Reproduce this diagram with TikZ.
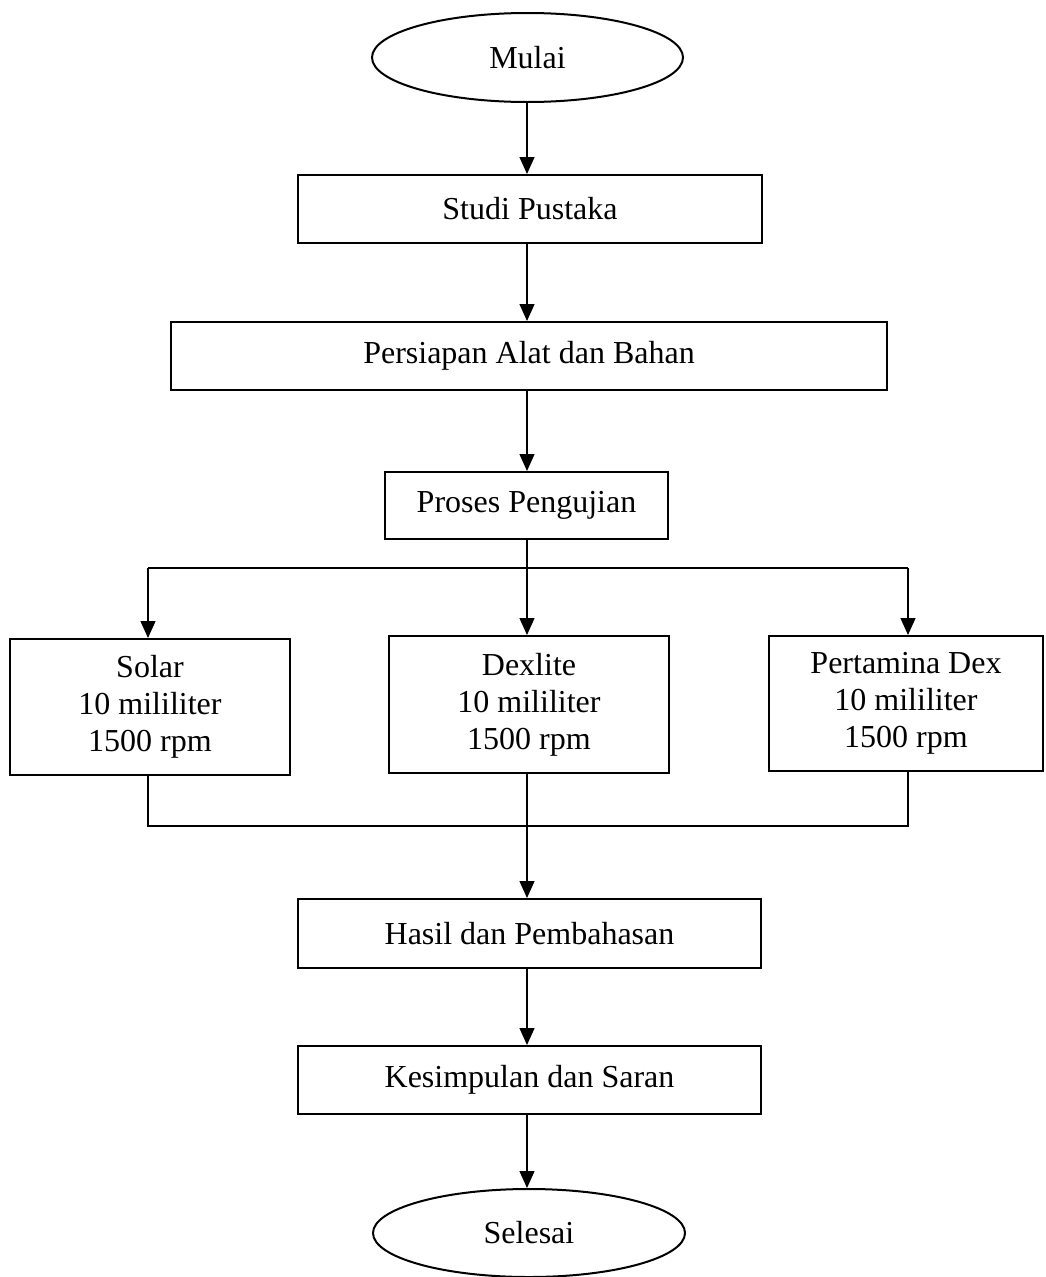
\documentclass[tikz,border=0pt]{standalone}
\usepackage{fontspec}
\setmainfont{Liberation Serif}
\usetikzlibrary{shapes.geometric,arrows.meta}
\begin{document}
\begin{tikzpicture}[x=1pt,y=-1pt,
  every node/.style={font=\fontsize{32}{37}\selectfont, align=center, inner sep=0pt},
  procbox/.style={draw, line width=2pt, rectangle},
  termin/.style={draw, line width=2pt, ellipse},
  arr/.style={line width=1.3pt, -{Triangle[length=17pt,width=15pt]}},
  ln/.style={line width=2pt}]
\useasboundingbox (0,0) rectangle (1045,1277);
\node[termin, minimum width=311pt, minimum height=89pt] (mulai) at (527.5,57.5) {Mulai};
\node[procbox, minimum width=464pt, minimum height=68pt] (studi) at (530,209) {Studi Pustaka};
\node[procbox, minimum width=716pt, minimum height=68pt] (persiapan) at (529,356) {Persiapan Alat dan Bahan};
\node[procbox, minimum width=283pt, minimum height=67pt] (proses) at (526.5,505.5) {Proses Pengujian};
\node[procbox, minimum width=280pt, minimum height=136pt] (solar) at (150,707) {Solar\\10 mililiter\\1500 rpm};
\node[procbox, minimum width=280pt, minimum height=137pt] (dexlite) at (529,704.5) {Dexlite\\10 mililiter\\1500 rpm};
\node[procbox, minimum width=274pt, minimum height=135pt] (pertamina) at (906,703.5) {Pertamina Dex\\10 mililiter\\1500 rpm};
\node[procbox, minimum width=463pt, minimum height=69pt] (hasil) at (529.5,933.5) {Hasil dan Pembahasan};
\node[procbox, minimum width=463pt, minimum height=68pt] (kesimpulan) at (529.5,1080) {Kesimpulan dan Saran};
\node[termin, minimum width=312pt, minimum height=88pt] (selesai) at (529,1233) {Selesai};

\coordinate (splitL) at (148,568);
\coordinate (splitM) at (527,568);
\coordinate (splitR) at (908,568);
\coordinate (joinL) at (148,826);
\coordinate (joinM) at (527,826);
\coordinate (joinR) at (908,826);

\draw[arr] (527,102) coordinate (m1) (mulai.south -| m1) -- (m1 |- studi.north);
\draw[arr] (527,243) coordinate (m2) (studi.south -| m2) -- (m2 |- persiapan.north);
\draw[arr] (527,390) coordinate (m3) (persiapan.south -| m3) -- (m3 |- proses.north);
\draw[ln] (proses.south -| splitM) -- (splitM);
\draw[ln] (splitL) -- (splitR);
\draw[arr] (splitL) -- (splitL |- solar.north);
\draw[arr] (splitM) -- (splitM |- dexlite.north);
\draw[arr] (splitR) -- (splitR |- pertamina.north);
\draw[ln] (solar.south -| joinL) -- (joinL) -- (joinR) -- (pertamina.south -| joinR);
\draw[arr] (dexlite.south -| joinM) -- (joinM |- hasil.north);
\draw[arr] (hasil.south -| joinM) -- (joinM |- kesimpulan.north);
\draw[arr] (kesimpulan.south -| joinM) -- (joinM |- selesai.north);
\end{tikzpicture}
\end{document}
